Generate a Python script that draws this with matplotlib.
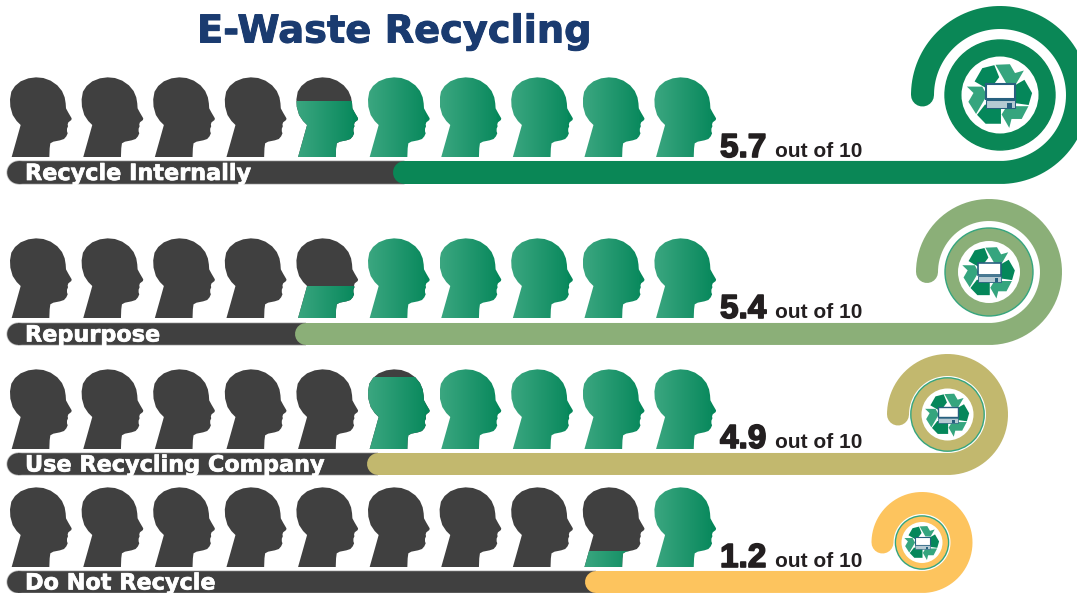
import matplotlib
matplotlib.use("Agg")
import matplotlib.patheffects as pe
import matplotlib.pyplot as plt
import numpy as np
from matplotlib.colors import to_rgb
from matplotlib.patches import Circle, PathPatch, Polygon, Rectangle
from matplotlib.path import Path

# data
categories = ["Recycle Internally", "Repurpose", "Use Recycling Company", "Do Not Recycle"]
scores = [5.7, 5.4, 4.9, 1.2]
score_labels = ["5.7", "5.4", "4.9", "1.2"]
total_heads = 10
title = "E-Waste Recycling"

# layout, in reference pixels
row_colors = ["#0A8756", "#8BAF78", "#C2B86E", "#FDC45E"]
head_bottoms = [157, 318, 449, 567]
bar_starts = [393, 295, 367, 585]
spiral_cx = [1000, 989, 947.5, 922]
spiral_cy = [95, 272, 414.5, 542.5]
spiral_r = [77.5, 62, 49.5, 39.5]
spiral_w = [23, 22, 22, 22]
ring_outer = [55, 44, 36.7, 26.6]
ring_inner = [38.5, 31, 26, 20.5]
text_baselines = [157, 318, 448, 567]

DARK = "#404040"
GREEN_L = "#3BA680"
GREEN_D = "#05875A"
NAVY = "#27607F"
HEAD_X0 = 10
HEAD_STEP = 71.6
HEAD_W = 62
HEAD_H = 80

# head silhouette traced on a 3x grid
head_outline = np.array([
    (35, 291), (48, 245), (62, 195), (50, 183), (38, 165), (31, 140), (30, 118),
    (34, 95), (45, 78), (62, 64), (85, 55), (108, 52), (130, 54), (152, 62),
    (172, 76), (186, 93), (194, 112), (197, 130), (198, 145), (205, 158),
    (215, 175), (214, 180), (205, 187), (203, 193), (204, 199), (201, 206),
    (201, 214), (203, 220), (199, 229), (192, 237), (180, 241), (160, 245),
    (151, 250), (149, 265), (148, 291),
], dtype=float)

arrow_dark = np.array([(-0.47, -0.30), (0.03, -0.36), (0.03, -0.9), (-0.45, -0.9), (-0.72, -0.62)])
arrow_light = np.array([(0.89, -0.35), (0.21, -0.35), (0.05, -0.61), (0.29, -1.03),
                        (0.36, -0.75), (0.68, -0.75)])

gradient = np.linspace(to_rgb(GREEN_L), to_rgb(GREEN_D), 60)
gradient[54:] = to_rgb(GREEN_D)
gradient = gradient[np.newaxis, :, :]


def px(v):
    return v * 0.72


def draw_head(ax, x0, bottom, fill):
    verts = np.column_stack([x0 + (head_outline[:, 0] - 30) / 3,
                             bottom - (291 - head_outline[:, 1]) / 3])
    face = "none" if fill >= 1 else DARK
    patch = PathPatch(Path(np.vstack([verts, verts[0]]), closed=True),
                      facecolor=face, edgecolor="none", zorder=2)
    ax.add_patch(patch)
    if fill <= 0:
        return
    im = ax.imshow(gradient, extent=(x0, x0 + HEAD_W + 1, bottom, bottom - fill * HEAD_H),
                   aspect="auto", zorder=3, interpolation="bilinear")
    im.set_clip_path(patch)


def draw_spiral(ax, i):
    cx, cy, r = spiral_cx[i], spiral_cy[i], spiral_r[i]
    w = spiral_w[i]
    y = cy + r
    left = 7 + w / 2
    end = bar_starts[i] + w / 2
    for col, width, z in [("#C4C4C4", w + 1.2, 3), (DARK, w - 0.4, 4)]:
        ax.plot([left, end], [y, y], color=col, lw=px(width), solid_capstyle="butt",
                zorder=z, snap=False)
        ax.add_patch(Circle((left, y), width / 2, facecolor=col, edgecolor="none", zorder=z))
    t = np.radians(np.linspace(90, -180, 200))
    xs = np.concatenate([[bar_starts[i] + w / 2], cx + r * np.cos(t)])
    ys = np.concatenate([[y], cy + r * np.sin(t)])
    ax.plot(xs, ys, color=row_colors[i], lw=px(w), solid_capstyle="round",
            solid_joinstyle="round", zorder=5, snap=False)


def draw_icon(ax, cx, cy, u):
    for shape, col, z in [(arrow_dark, GREEN_D, 8), (arrow_light, "#35A57E", 8.5)]:
        for k in range(3):
            a = np.radians(120 * k)
            rot = np.array([[np.cos(a), -np.sin(a)], [np.sin(a), np.cos(a)]])
            pts = shape @ rot.T
            ax.add_patch(Polygon(np.column_stack([cx + u * pts[:, 0], cy - u * pts[:, 1]]),
                                 closed=True, facecolor=col, edgecolor="none", zorder=z))
    # laptop
    lw = max(0.6, u / 32 * 1.5)
    ax.add_patch(Rectangle((cx - 0.44 * u, cy - 0.34 * u), 0.91 * u, 0.47 * u,
                           facecolor="white", edgecolor=NAVY, linewidth=lw, zorder=9))
    ax.add_patch(Rectangle((cx - 0.44 * u, cy + 0.17 * u), 0.91 * u, 0.23 * u,
                           facecolor="#B5CAD3", edgecolor=NAVY, linewidth=lw * 0.5, zorder=9))
    ax.add_patch(Rectangle((cx + 0.22 * u, cy + 0.24 * u), 0.14 * u, 0.16 * u,
                           facecolor=NAVY, edgecolor="none", zorder=10))


fig = plt.figure(figsize=(10.77, 5.93), dpi=100)
ax = fig.add_axes([0, 0, 1, 1])

for i, score in enumerate(scores):
    for h in range(total_heads):
        # green fills heads from the right
        fill = np.clip(score - (total_heads - 1 - h), 0, 1)
        draw_head(ax, HEAD_X0 + h * HEAD_STEP, head_bottoms[i], fill)

    draw_spiral(ax, i)
    cx, cy = spiral_cx[i], spiral_cy[i]
    edge = row_colors[i] if i == 0 else "#35A57E"
    ax.add_patch(Circle((cx, cy), ring_outer[i], facecolor=row_colors[i], edgecolor=edge,
                        linewidth=1.0, zorder=6))
    ax.add_patch(Circle((cx, cy), ring_inner[i], facecolor="white", edgecolor="none", zorder=7))
    draw_icon(ax, cx, cy, ring_inner[i] * 0.83)

    y = cy + spiral_r[i]
    ax.text(25, y + 7.5, categories[i], color="white", fontsize=16.1, fontweight="bold",
            family="DejaVu Sans", va="baseline", ha="left", zorder=11,
            path_effects=[pe.withStroke(linewidth=0.5, foreground="white")])
    ax.text(720, text_baselines[i], score_labels[i], color="#231F20", fontsize=24,
            fontweight="bold", family="Liberation Sans", va="baseline", ha="left", zorder=11,
            path_effects=[pe.withStroke(linewidth=1.2, foreground="#231F20")])
    ax.text(775, text_baselines[i], "out of 10", color="#231F20", fontsize=15,
            fontweight="bold", family="Liberation Sans", va="baseline", ha="left", zorder=11)

ax.text(197, 42.5, title, color="#1A3B70", fontsize=27.6, fontweight="bold",
        family="DejaVu Sans", va="baseline", ha="left", zorder=11,
        path_effects=[pe.withStroke(linewidth=0.7, foreground="#1A3B70")])

ax.set_xlim(0, 1077)
ax.set_ylim(593, 0)
ax.axis("off")
fig.savefig("out.png", dpi=100)
